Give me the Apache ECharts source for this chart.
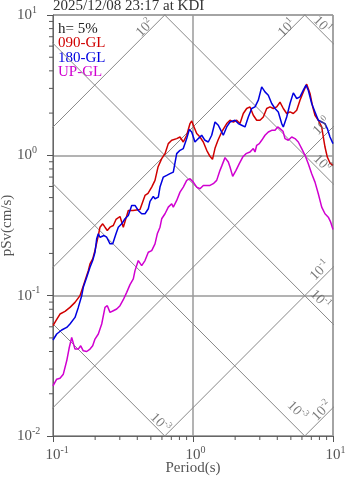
<!DOCTYPE html>
<html><head><meta charset="utf-8">
<script src="https://cdn.jsdelivr.net/npm/echarts@6/dist/echarts.min.js"></script>
<style>html,body{margin:0;padding:0;background:#fff}#c{width:347px;height:478px}</style>
</head><body><div id="c"></div>
<script>
// ---- data ----
const title = '2025/12/08 23:17 at KDI';
const dampingText = 'h= 5%';
const seriesNames = ['090-GL', '180-GL', 'UP-GL'];

const periods090 = [0.100,0.1050,0.1122,0.1218,0.1322,0.1436,0.1559,0.1693,0.1787,0.1838,0.1921,0.1995,0.2107,0.2166,0.2265,0.2352,0.2443,0.2554,0.2696,0.2818,0.3010,0.3178,0.3451,0.3727,0.4182,0.4541,0.4771,0.5070,0.5352,0.5623,0.5976,0.631,0.666,0.7045,0.7648,0.8075,0.8524,0.9016,0.952,0.979,1.005,1.063,1.122,1.185,1.253,1.322,1.378,1.436,1.508,1.603,1.741,1.838,1.941,2.051,2.166,2.287,2.418,2.554,2.696,2.851,3.010,3.178,3.361,3.548,3.746,3.962,4.182,4.416,4.670,4.931,5.206,5.505,5.811,6.137,6.487,6.661,6.850,7.161,7.437,7.852,8.305,8.524,8.766,9.107,9.519,10.0];
const sv090 = [0.0611,0.0663,0.0740,0.0773,0.0825,0.0896,0.100,0.128,0.1508,0.1684,0.1829,0.2096,0.2683,0.3075,0.3252,0.3075,0.2912,0.3075,0.3162,0.3491,0.3666,0.3075,0.4046,0.4046,0.4115,0.5179,0.5352,0.5937,0.6630,0.825,0.947,1.028,1.212,1.280,1.316,1.351,1.245,1.390,1.684,1.758,1.638,1.429,1.351,1.245,1.086,0.984,0.936,1.122,1.280,1.467,1.684,1.778,1.729,1.778,1.684,1.986,2.156,2.213,1.931,1.778,1.778,1.877,2.156,2.213,2.156,2.213,2.391,2.156,1.986,2.038,1.986,2.096,2.471,2.833,3.215,3.162,2.759,2.213,1.931,1.778,1.593,1.351,1.146,0.972,0.881,0.848];

const periods180 = [0.100,0.1063,0.1154,0.1253,0.1322,0.1436,0.1516,0.1603,0.1646,0.1741,0.1838,0.1921,0.1995,0.2051,0.2107,0.2166,0.2228,0.2314,0.2418,0.2554,0.2670,0.2818,0.2927,0.3095,0.3268,0.3451,0.3648,0.3853,0.4067,0.4300,0.4541,0.4794,0.4931,0.5206,0.5352,0.5651,0.5811,0.6137,0.6487,0.6850,0.7232,0.7648,0.8075,0.8524,0.9016,0.941,0.979,1.033,1.091,1.154,1.218,1.286,1.360,1.436,1.516,1.559,1.646,1.741,1.838,1.995,2.107,2.228,2.352,2.483,2.626,2.773,2.927,3.095,3.268,3.451,3.648,3.853,4.067,4.300,4.416,4.670,4.931,5.206,5.505,5.811,6.137,6.413,6.661,7.045,7.437,7.852,8.305,8.766,9.107,9.519,10.0];
const sv180 = [0.0483,0.0533,0.0569,0.0594,0.0628,0.0700,0.0825,0.100,0.1146,0.1351,0.1593,0.1778,0.2038,0.2541,0.2759,0.2609,0.2541,0.2683,0.2609,0.2340,0.2340,0.2759,0.3075,0.3252,0.3531,0.3727,0.4394,0.4394,0.4046,0.3834,0.3834,0.4162,0.4693,0.5095,0.4906,0.5036,0.5937,0.6998,0.7196,0.740,0.7597,1.028,1.086,1.117,1.316,1.526,1.467,1.245,1.316,1.390,1.280,1.245,1.390,1.729,1.638,1.551,1.390,1.593,1.729,1.778,1.684,1.638,1.593,1.877,2.156,2.213,2.471,3.075,2.833,2.683,2.340,2.156,2.038,1.684,1.593,1.877,2.340,2.786,2.541,2.609,2.912,3.162,2.912,2.340,2.038,1.778,1.729,1.684,1.551,1.351,1.212];

const periodsUP = [0.100,0.1063,0.1122,0.1185,0.1253,0.1307,0.1360,0.1436,0.1516,0.1577,0.1646,0.1741,0.1838,0.1921,0.1995,0.2107,0.2228,0.2352,0.2443,0.2554,0.2696,0.2851,0.3010,0.3178,0.3361,0.3548,0.3746,0.3853,0.4067,0.4300,0.4541,0.4794,0.5070,0.5352,0.5559,0.5811,0.5976,0.631,0.666,0.7045,0.7232,0.7648,0.8075,0.8524,0.9016,0.952,1.005,1.063,1.122,1.185,1.253,1.322,1.396,1.476,1.559,1.611,1.693,1.787,1.838,1.921,2.028,2.141,2.265,2.391,2.554,2.696,2.773,2.851,2.976,3.095,3.268,3.451,3.648,3.853,4.027,4.182,4.394,4.541,4.794,5.070,5.352,5.651,5.976,6.310,6.661,7.045,7.437,7.852,8.305,8.766,9.256,9.630,10.0];
const svUP = [0.02276,0.02541,0.02583,0.02759,0.03434,0.04273,0.05036,0.04162,0.04162,0.04394,0.04046,0.0400,0.04162,0.04394,0.04906,0.0533,0.0628,0.0825,0.0848,0.0760,0.0781,0.0803,0.0848,0.0936,0.1056,0.1198,0.1316,0.1508,0.1778,0.1638,0.1778,0.2038,0.2096,0.2340,0.2759,0.3075,0.3531,0.3834,0.4273,0.4519,0.4273,0.4771,0.5470,0.5937,0.6630,0.6817,0.6445,0.5937,0.5781,0.6105,0.6105,0.6105,0.6281,0.6630,0.7815,0.848,0.963,0.896,0.825,0.708,0.7815,0.872,0.972,1.028,1.056,1.117,1.056,1.179,1.212,1.280,1.390,1.467,1.508,1.508,1.593,1.551,1.484,1.316,1.280,1.351,1.316,1.245,1.117,1.000,0.872,0.740,0.6445,0.5325,0.4273,0.3834,0.3625,0.3339,0.2960];

// tripartite reference levels
const accelLevels = [0.01, 0.1, 1, 10, 100];      // constant pSa (cm/s^2)
const dispLevels  = [0.001, 0.01, 0.1, 1, 10];    // constant Sd (cm)
// tick values
const minorY = [0.02,0.03,0.04,0.05,0.06,0.07,0.08,0.09,0.2,0.3,0.4,0.5,0.6,0.7,0.8,0.9,2,3,4,5,6,7,8,9];
const minorX = [0.2,0.3,0.4,0.5,0.6,0.7,0.8,0.9,2,3,4,5,6,7,8,9];
// diagonal-line label texts (exponents) and anchors in data units
const accelLabelExp = ['-2','-1','0','1','2'];
const accelLabelAt  = [[8.344,0.01508],[8.075,0.1508],[8.344,1.611],[4.693,8.07],[0.454,8.07]];
const dispLabelExp  = ['-3','-3','-1','0','1'];
const dispLabelAt   = [[0.581,0.01239],[5.534,0.01508],[8.075,0.0936],[8.344,0.877],[8.344,8.483]];

// ---- chart ----
const FONT = 'Liberation Serif';
const GRAY = '#555';
const colors = ['#d00000', '#0000e0', '#d000d0'];
const X_MIN = 0.1, X_MAX = 10, Y_MIN = 0.01, Y_MAX = 10;
const chart = echarts.init(document.getElementById('c'), null, {renderer: 'canvas'});

const supRich = (base, sup) => ({
  b: {fontFamily: FONT, fontSize: base, lineHeight: base + 5, color: GRAY},
  s: {fontFamily: FONT, fontSize: sup, color: GRAY, verticalAlign: 'top'},
  sp: {fontFamily: FONT, fontSize: sup, color: 'rgba(0,0,0,0)', verticalAlign: 'top'}
});
const expOf = v => Math.round(Math.log10(v));

const diagSeries = [];
accelLevels.forEach(a => {
  diagSeries.push({
    type: 'line', silent: true, showSymbol: false, clip: true, z: 1,
    lineStyle: {color: '#888', width: 1},
    data: [[0.01, a * 0.01 / (2 * Math.PI)], [1000, a * 1000 / (2 * Math.PI)]]
  });
});
dispLevels.forEach(d => {
  diagSeries.push({
    type: 'line', silent: true, showSymbol: false, clip: true, z: 1,
    lineStyle: {color: '#888', width: 1},
    data: [[0.01, 2 * Math.PI * d / 0.01], [1000, 2 * Math.PI * d / 1000]]
  });
});
const diagLabelRich = {
  b: {fontFamily: FONT, fontSize: 14, lineHeight: 18, color: '#5a5a5a'},
  s: {fontFamily: FONT, fontSize: 9, color: '#5a5a5a', verticalAlign: 'top'}
};
const labelSeries = [
  {
    type: 'scatter', silent: true, symbolSize: 0, z: 5,
    data: accelLabelAt.map((p, i) => ({value: p, name: accelLabelExp[i]})),
    label: {show: true, position: 'inside', rotate: 45, align: 'center', verticalAlign: 'middle',
      formatter: p => '{b|10}{s|' + p.name + '}', rich: diagLabelRich}
  },
  {
    type: 'scatter', silent: true, symbolSize: 0, z: 5,
    data: dispLabelAt.map((p, i) => ({value: p, name: dispLabelExp[i]})),
    label: {show: true, position: 'inside', rotate: -45, align: 'center', verticalAlign: 'middle',
      formatter: p => '{b|10}{s|' + p.name + '}', rich: diagLabelRich}
  }
];

// minor ticks drawn through the axes' own scales
const tickSeries = [
  {
    type: 'custom', silent: true, clip: false, z: 10,
    data: minorX.map(v => [v, Y_MIN]),
    renderItem: (params, api) => {
      const p = api.coord([api.value(0), api.value(1)]);
      return {type: 'rect', shape: {x: p[0] - 0.5, y: p[1], width: 1, height: 4}, style: {fill: '#555'}};
    }
  },
  {
    type: 'custom', silent: true, clip: false, z: 10,
    data: minorY.map(v => [X_MIN, v]),
    renderItem: (params, api) => {
      const p = api.coord([api.value(0), api.value(1)]);
      return {type: 'rect', shape: {x: p[0] - 4, y: p[1] - 0.5, width: 4, height: 1}, style: {fill: '#555'}};
    }
  }
];

const dataSeries = [
  [periods090, sv090], [periods180, sv180], [periodsUP, svUP]
].map((pair, k) => ({
  name: seriesNames[k], type: 'line', showSymbol: false, clip: true, z: 3,
  lineStyle: {color: colors[k], width: 1.5}, itemStyle: {color: colors[k]},
  data: pair[0].map((t, i) => [t, pair[1][i]])
}));

const option = {
  animation: false,
  backgroundColor: '#fff',
  grid: {left: 53, right: 14, top: 15, bottom: 42, containLabel: false, outerBoundsMode: 'none',
    show: true, borderColor: '#888', borderWidth: 1},
  xAxis: {
    type: 'log', logBase: 10, min: X_MIN, max: X_MAX, position: 'bottom',
    name: 'Period(s)', nameLocation: 'middle', nameGap: 25, nameMoveOverlap: false,
    nameTextStyle: {fontFamily: FONT, fontSize: 15, color: GRAY},
    axisLine: {show: true, lineStyle: {color: '#666', width: 1}},
    axisTick: {show: true, length: 6, lineStyle: {color: '#555', width: 1}},
    axisLabel: {margin: 9, formatter: v => {const e = expOf(v); return '{sp|' + e + '}{b|10}{s|' + e + '}';}, rich: supRich(15, 10)},
    splitLine: {show: true, lineStyle: {color: '#9a9a9a', width: 1.5}}
  },
  yAxis: {
    type: 'log', logBase: 10, min: Y_MIN, max: Y_MAX, position: 'left',
    name: 'pSv(cm/s)', nameLocation: 'middle', nameGap: 38, nameRotate: 90, nameMoveOverlap: false,
    nameTextStyle: {fontFamily: FONT, fontSize: 15, color: GRAY},
    axisLine: {show: true, lineStyle: {color: '#666', width: 1}},
    axisTick: {show: true, length: 6, lineStyle: {color: '#555', width: 1}},
    axisLabel: {margin: 36, align: 'left', formatter: v => '{b|10}{s|' + expOf(v) + '}', rich: supRich(15, 10)},
    splitLine: {show: true, lineStyle: {color: '#9a9a9a', width: 1.5}}
  },
  graphic: [
    {type: 'text', left: 53, top: -1, style: {text: title, font: '15px "Liberation Serif"', fill: '#333'}},
    {type: 'text', left: 58, top: 22, style: {text: dampingText, font: '15px "Liberation Serif"', fill: '#222'}},
    {type: 'text', left: 58, top: 36, style: {text: seriesNames[0], font: '15px "Liberation Serif"', fill: colors[0]}},
    {type: 'text', left: 58, top: 51, style: {text: seriesNames[1], font: '15px "Liberation Serif"', fill: colors[1]}},
    {type: 'text', left: 58, top: 65, style: {text: seriesNames[2], font: '15px "Liberation Serif"', fill: colors[2]}}
  ],
  series: diagSeries.concat(labelSeries, dataSeries, tickSeries)
};
chart.setOption(option);
</script>
</body></html>
